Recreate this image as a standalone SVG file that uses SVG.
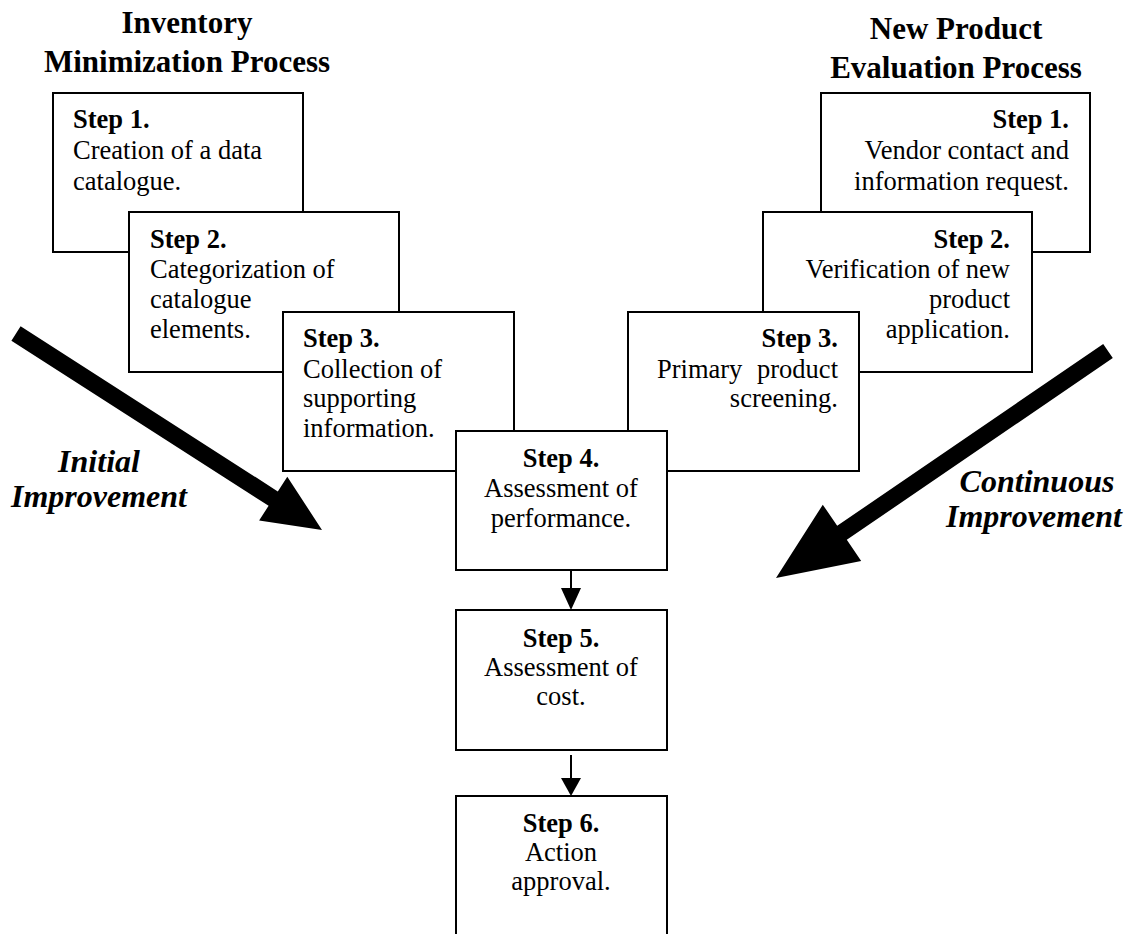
<svg xmlns="http://www.w3.org/2000/svg" width="1138" height="934" viewBox="0 0 1138 934">
<defs>
<style>
.box{fill:#fff;stroke:#000;stroke-width:2}
.t{font-family:"Liberation Serif","Times New Roman",serif;font-size:26.5px;fill:#000}
.b{font-weight:bold}
.title{font-family:"Liberation Serif","Times New Roman",serif;font-size:31px;font-weight:bold;fill:#000;text-anchor:middle}
.lbl{font-family:"Liberation Serif","Times New Roman",serif;font-size:32px;font-weight:bold;font-style:italic;fill:#000;text-anchor:middle}
.e{text-anchor:end}
.m{text-anchor:middle}
.conn{stroke:#000;stroke-width:2;fill:none}
</style>
</defs>
<rect width="1138" height="934" fill="#fff"/>
<g id="titles">
<text class="title" x="187" y="33">Inventory</text>
<text class="title" x="187" y="72">Minimization Process</text>
<text class="title" x="956" y="39">New Product</text>
<text class="title" x="956" y="78">Evaluation Process</text>
</g>
<g id="big-arrows">
<polygon points="20.6,326.3 277.8,491.4 287.3,476.7 322,530 259.1,520.5 268.6,505.8 11.4,340.7" fill="#000"/>
<polygon points="1103.2,344 837.2,525.8 822.8,504.7 776,578 861.2,560.9 846.8,539.8 1112.8,358" fill="#000"/>
<text class="lbl" x="99" y="472">Initial</text>
<text class="lbl" x="99" y="507">Improvement</text>
<text class="lbl" x="1037" y="492">Continuous</text>
<text class="lbl" x="1034" y="527">Improvement</text>
</g>
<g id="inv-step1">
<rect class="box" x="53" y="93" width="250" height="159"/>
<text class="t b" x="73" y="128">Step 1.</text>
<text class="t" x="73" y="159">Creation of a data</text>
<text class="t" x="73" y="190">catalogue.</text>
</g>
<g id="inv-step2">
<rect class="box" x="129" y="212" width="270" height="160"/>
<text class="t b" x="150" y="248">Step 2.</text>
<text class="t" x="150" y="278">Categorization of</text>
<text class="t" x="150" y="308">catalogue</text>
<text class="t" x="150" y="338">elements.</text>
</g>
<g id="inv-step3">
<rect class="box" x="283" y="312" width="231" height="159"/>
<text class="t b" x="303" y="347">Step 3.</text>
<text class="t" x="303" y="378">Collection of</text>
<text class="t" x="303" y="407">supporting</text>
<text class="t" x="303" y="437">information.</text>
</g>
<g id="npe-step1">
<rect class="box" x="821" y="93" width="269" height="159"/>
<text class="t b e" x="1069" y="128">Step 1.</text>
<text class="t e" x="1069" y="159">Vendor contact and</text>
<text class="t e" x="1069" y="190">information request.</text>
</g>
<g id="npe-step2">
<rect class="box" x="763" y="212" width="269" height="160"/>
<text class="t b e" x="1010" y="248">Step 2.</text>
<text class="t e" x="1010" y="278">Verification of new</text>
<text class="t e" x="1010" y="308">product</text>
<text class="t e" x="1010" y="338">application.</text>
</g>
<g id="npe-step3">
<rect class="box" x="628" y="312" width="231" height="159"/>
<text class="t b e" x="838" y="347">Step 3.</text>
<text class="t" x="657" y="378">Primary</text>
<text class="t e" x="838" y="378">product</text>
<text class="t e" x="838" y="407">screening.</text>
</g>
<g id="step4">
<rect class="box" x="456" y="431" width="211" height="139"/>
<text class="t b m" x="561" y="467">Step 4.</text>
<text class="t m" x="561" y="497">Assessment of</text>
<text class="t m" x="561" y="527">performance.</text>
</g>
<g id="step5">
<rect class="box" x="456" y="610" width="211" height="140"/>
<text class="t b m" x="561" y="647">Step 5.</text>
<text class="t m" x="561" y="676">Assessment of</text>
<text class="t m" x="561" y="705">cost.</text>
</g>
<g id="step6">
<rect class="box" x="456" y="796" width="211" height="160"/>
<text class="t b m" x="561" y="832">Step 6.</text>
<text class="t m" x="561" y="861">Action</text>
<text class="t m" x="561" y="890">approval.</text>
</g>
<g id="connectors">
<line class="conn" x1="571" y1="570" x2="571" y2="590"/>
<polygon points="561,588 581,588 571,610" fill="#000"/>
<line class="conn" x1="571" y1="755" x2="571" y2="780"/>
<polygon points="561,778 581,778 571,796" fill="#000"/>
</g>
</svg>
